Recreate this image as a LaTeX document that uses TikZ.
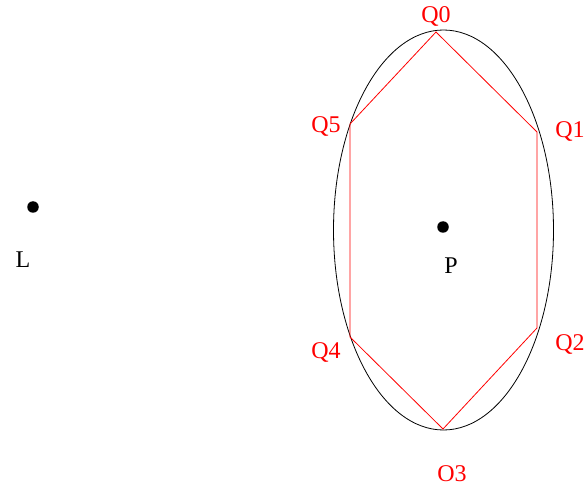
\documentclass[tikz,border=0pt]{standalone}
\usepackage{fontspec}
\setmainfont{Liberation Serif}
\usetikzlibrary{calc}
\tikzset{
  vlabel/.style={text=red,font=\fontsize{24}{24}\selectfont,inner sep=0pt},
  plabel/.style={font=\fontsize{24}{24}\selectfont,inner sep=0pt},
  dot/.style={circle,fill=black,inner sep=0pt,minimum size=11.5pt}
}

\begin{document}
\begin{tikzpicture}[x=1pt,y=1pt]
    \useasboundingbox (0,0) rectangle (587,491);
	\draw[black,line width=0.8pt] (443.5,261) ellipse (110 and 200);
    % corners of the hexagon
    \coordinate (Q0) at (436,459);
    \coordinate (Q1) at (537,359);
    \coordinate (Q2) at (537,163);
    \coordinate (Q3) at (443,62);
    \coordinate (Q4) at (350,154);
    \coordinate (Q5) at (350,367);
    \draw[red,line width=0.8pt](Q0)--(Q1)--(Q2)--(Q3)--(Q4)--(Q5)--cycle;
    \node[vlabel] (lQ0) at (436,475){Q0};
    \node[vlabel] (lQ1) at (570,359){Q1};
    \node[vlabel] (lQ2) at (570,147){Q2};
    \node[vlabel] (lQ3) at (452,17){O3};
    \node[vlabel] (lQ4) at (326,139){Q4};
    \node[vlabel] (lQ5) at (326,364){Q5};
    % the two points
    \node[dot] (P) at (443,264){};
    \node[plabel] (lP) at (451,225){P};
    \node[dot] (L) at (33,284){};
    \node[plabel] (lL) at (23,231){L};
	\end{tikzpicture}
\end{document}
